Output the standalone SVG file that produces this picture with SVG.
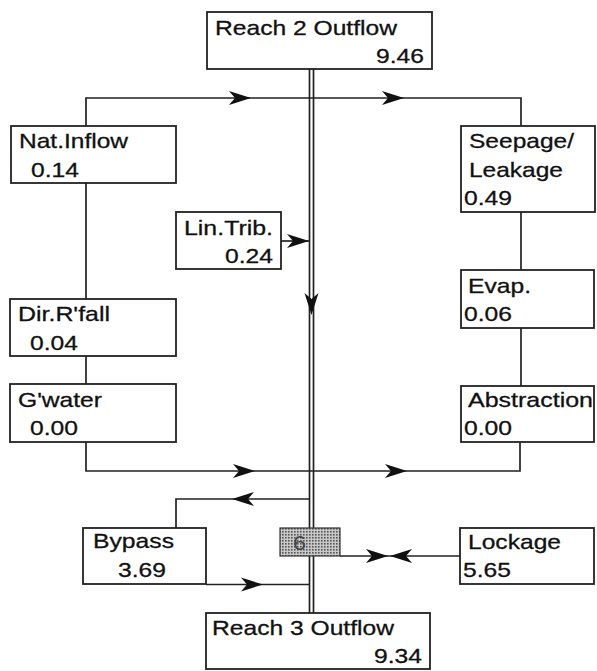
<svg xmlns="http://www.w3.org/2000/svg" xmlns:xlink="http://www.w3.org/1999/xlink" width="597" height="671" viewBox="0 0 597 671">
<style>
.box{fill:#fff;stroke:#222;stroke-width:1.8}
.ln{fill:none;stroke:#222;stroke-width:1.7}
text{font-family:"Liberation Sans",Arial,sans-serif;font-size:21px;fill:#111;stroke:#111;stroke-width:0.3}
</style>
<defs>
<path id="ah" d="M0,0 L-22,-7 L-16,0 L-22,7 Z" fill="#111"/>
<pattern id="dots" width="3" height="3" patternUnits="userSpaceOnUse">
<rect width="3" height="3" fill="#c8c8c8"/>
<rect width="1.6" height="1.6" fill="#555"/>
</pattern>
</defs>
<rect width="597" height="671" fill="#fff"/>
<g id="connectors">
<line class="ln" x1="309.5" y1="69" x2="309.5" y2="613"/>
<line class="ln" x1="313.5" y1="69" x2="313.5" y2="613"/>
<polyline class="ln" points="86,126 86,98 521,98 521,126"/>
<line class="ln" x1="86" y1="183" x2="86" y2="299"/>
<line class="ln" x1="86" y1="356" x2="86" y2="384"/>
<polyline class="ln" points="86,442 86,471 520,471 520,442"/>
<line class="ln" x1="521" y1="212" x2="521" y2="270"/>
<line class="ln" x1="521" y1="328" x2="521" y2="386"/>
<line class="ln" x1="281" y1="241" x2="309.5" y2="241"/>
<polyline class="ln" points="309.5,499 176,499 176,528"/>
<line class="ln" x1="206" y1="584.5" x2="309.5" y2="584.5"/>
<line class="ln" x1="340" y1="556" x2="460" y2="556"/>
<use xlink:href="#ah" transform="translate(251,98)"/>
<use xlink:href="#ah" transform="translate(404,98)"/>
<use xlink:href="#ah" transform="translate(255,471)"/>
<use xlink:href="#ah" transform="translate(407,471)"/>
<use xlink:href="#ah" transform="translate(309,241)"/>
<use xlink:href="#ah" transform="translate(311.5,315) rotate(90)"/>
<use xlink:href="#ah" transform="translate(232,499) rotate(180)"/>
<use xlink:href="#ah" transform="translate(263,584.5)"/>
<use xlink:href="#ah" transform="translate(388,556)"/>
<use xlink:href="#ah" transform="translate(390,556) rotate(180)"/>
</g>
<g id="reach2">
<rect class="box" x="207" y="12" width="225" height="57"/>
<text x="215" y="35" textLength="182" lengthAdjust="spacingAndGlyphs">Reach 2 Outflow</text>
<text x="376" y="63" textLength="48" lengthAdjust="spacingAndGlyphs">9.46</text>
</g>
<g id="natinflow">
<rect class="box" x="11" y="126" width="165" height="57"/>
<text x="19" y="148" textLength="109" lengthAdjust="spacingAndGlyphs">Nat.Inflow</text>
<text x="31" y="177" textLength="48" lengthAdjust="spacingAndGlyphs">0.14</text>
</g>
<g id="seepage">
<rect class="box" x="461" y="126" width="134" height="86"/>
<text x="469" y="148" textLength="105" lengthAdjust="spacingAndGlyphs">Seepage/</text>
<text x="469" y="177" textLength="94" lengthAdjust="spacingAndGlyphs">Leakage</text>
<text x="464" y="205" textLength="48" lengthAdjust="spacingAndGlyphs">0.49</text>
</g>
<g id="lintrib">
<rect class="box" x="176" y="212" width="105" height="57"/>
<text x="184" y="235" textLength="89" lengthAdjust="spacingAndGlyphs">Lin.Trib.</text>
<text x="225" y="263" textLength="48" lengthAdjust="spacingAndGlyphs">0.24</text>
</g>
<g id="dirrfall">
<rect class="box" x="10" y="299" width="166" height="57"/>
<text x="18" y="321" textLength="92" lengthAdjust="spacingAndGlyphs">Dir.R'fall</text>
<text x="30" y="350" textLength="48" lengthAdjust="spacingAndGlyphs">0.04</text>
</g>
<g id="gwater">
<rect class="box" x="10" y="384" width="166" height="58"/>
<text x="18" y="407" textLength="84" lengthAdjust="spacingAndGlyphs">G'water</text>
<text x="30" y="435" textLength="48" lengthAdjust="spacingAndGlyphs">0.00</text>
</g>
<g id="evap">
<rect class="box" x="461" y="270" width="133" height="58"/>
<text x="468" y="293" textLength="63" lengthAdjust="spacingAndGlyphs">Evap.</text>
<text x="464" y="321" textLength="48" lengthAdjust="spacingAndGlyphs">0.06</text>
</g>
<g id="abstraction">
<rect class="box" x="461" y="386" width="133" height="56"/>
<text x="468" y="407" textLength="125" lengthAdjust="spacingAndGlyphs">Abstraction</text>
<text x="464" y="435" textLength="48" lengthAdjust="spacingAndGlyphs">0.00</text>
</g>
<g id="bypass">
<rect class="box" x="83" y="528" width="123" height="56"/>
<text x="93" y="548" textLength="81" lengthAdjust="spacingAndGlyphs">Bypass</text>
<text x="118" y="577" textLength="48" lengthAdjust="spacingAndGlyphs">3.69</text>
</g>
<g id="node6">
<rect x="280" y="528" width="60" height="28" fill="url(#dots)" stroke="#333" stroke-width="1.2"/>
<text x="293" y="550" style="fill:#444;stroke:none" textLength="13" lengthAdjust="spacingAndGlyphs">6</text>
</g>
<g id="lockage">
<rect class="box" x="460" y="528" width="134" height="56"/>
<text x="468" y="549" textLength="93" lengthAdjust="spacingAndGlyphs">Lockage</text>
<text x="463" y="577" textLength="48" lengthAdjust="spacingAndGlyphs">5.65</text>
</g>
<g id="reach3">
<rect class="box" x="206" y="613" width="224" height="56"/>
<text x="212" y="635" textLength="182" lengthAdjust="spacingAndGlyphs">Reach 3 Outflow</text>
<text x="374" y="663" textLength="48" lengthAdjust="spacingAndGlyphs">9.34</text>
</g>
</svg>
